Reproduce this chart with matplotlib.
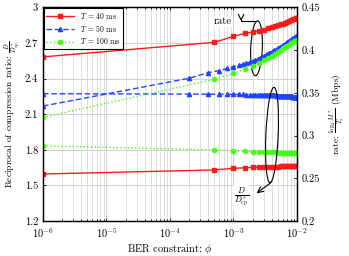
import numpy as np
import matplotlib
matplotlib.use("Agg")
import matplotlib.pyplot as plt
from matplotlib.patches import Ellipse

plt.rcParams['font.family'] = 'serif'
plt.rcParams['font.serif'] = ['cmr10', 'DejaVu Serif']
plt.rcParams['mathtext.fontset'] = 'cm'
plt.rcParams['axes.unicode_minus'] = False
plt.rcParams['axes.formatter.use_mathtext'] = True

# BER constraint values (T = 40 ms and T = 100 ms share the grid)
phi_coarse = [1e-6, 0.5e-3, 1.0e-3, 1.5e-3, 2.0e-3, 2.5e-3, 3.0e-3, 3.5e-3, 4.0e-3, 4.5e-3, 5.0e-3,
              5.5e-3, 6.0e-3, 6.5e-3, 7.0e-3, 7.5e-3, 8.0e-3, 8.5e-3, 9.0e-3, 9.5e-3, 10.0e-3]
phi_fine = [1e-6, 0.2e-3, 0.4e-3, 0.6e-3, 0.8e-3, 1.0e-3, 1.2e-3, 1.4e-3, 1.6e-3, 1.8e-3, 2.0e-3,
            2.2e-3, 2.4e-3, 2.6e-3, 2.8e-3, 3.0e-3, 3.2e-3, 3.4e-3, 3.6e-3, 3.8e-3, 4.0e-3,
            4.2e-3, 4.4e-3, 4.6e-3, 4.8e-3, 5.0e-3, 5.2e-3, 5.4e-3, 5.6e-3, 5.8e-3, 6.0e-3,
            6.2e-3, 6.4e-3, 6.6e-3, 6.8e-3, 7.0e-3, 7.2e-3, 7.4e-3, 7.6e-3, 7.8e-3, 8.0e-3,
            8.2e-3, 8.4e-3, 8.6e-3, 8.8e-3, 9.0e-3, 9.2e-3, 9.4e-3, 9.6e-3, 9.8e-3, 10.0e-3]

# T = 40 ms
rate_40 = [0.392, 0.409, 0.416, 0.4195, 0.421, 0.4225, 0.424, 0.4255, 0.427, 0.428, 0.429,
           0.430, 0.431, 0.432, 0.433, 0.434, 0.435, 0.4358, 0.4366, 0.4374, 0.438]
ratio_40 = [1.596, 1.630, 1.644, 1.648, 1.651, 1.653, 1.655, 1.656, 1.657, 1.658, 1.659,
            1.660, 1.661, 1.661, 1.662, 1.662, 1.663, 1.663, 1.664, 1.664, 1.665]

# T = 50 ms
rate_50 = [0.3345, 0.3670, 0.3735, 0.3760, 0.3786, 0.3805, 0.3820, 0.3834, 0.3847, 0.3859, 0.3870,
           0.3882, 0.3894, 0.3906, 0.3918, 0.3930, 0.3940, 0.3950, 0.3960, 0.3970, 0.3980,
           0.3988, 0.3996, 0.4004, 0.4012, 0.4020, 0.4027, 0.4034, 0.4041, 0.4048, 0.4055,
           0.4062, 0.4069, 0.4076, 0.4083, 0.4090, 0.4096, 0.4102, 0.4108, 0.4114, 0.4120,
           0.4125, 0.4130, 0.4135, 0.4140, 0.4145, 0.4149, 0.4153, 0.4157, 0.4161, 0.4165]
ratio_50 = [2.272, 2.269, 2.268, 2.268, 2.267, 2.267, 2.266, 2.266, 2.265, 2.265, 2.264,
            2.264, 2.263, 2.263, 2.262, 2.262, 2.261, 2.261, 2.260, 2.260, 2.259,
            2.259, 2.258, 2.258, 2.257, 2.257, 2.256, 2.256, 2.255, 2.255, 2.254,
            2.254, 2.253, 2.253, 2.252, 2.252, 2.251, 2.251, 2.250, 2.250, 2.249,
            2.249, 2.248, 2.248, 2.247, 2.247, 2.246, 2.246, 2.245, 2.245, 2.244]

# T = 100 ms
rate_100 = [0.3213, 0.3658, 0.3727, 0.3775, 0.3815, 0.3850, 0.3880, 0.3908, 0.3934, 0.3958, 0.3980,
            0.4000, 0.4018, 0.4035, 0.4050, 0.4064, 0.4077, 0.4089, 0.4100, 0.4110, 0.4120]
ratio_100 = [1.834, 1.798, 1.792, 1.788, 1.785, 1.783, 1.781, 1.779, 1.778, 1.777, 1.776,
             1.775, 1.774, 1.773, 1.772, 1.771, 1.771, 1.770, 1.770, 1.769, 1.769]

left_ticks = [1.2, 1.5, 1.8, 2.1, 2.4, 2.7, 3.0]
left_labels = ["1.2", "1.5", "1.8", "2.1", "2.4", "2.7", "3"]
right_ticks = [0.2, 0.25, 0.3, 0.35, 0.4, 0.45]
right_labels = ["0.2", "0.25", "0.3", "0.35", "0.4", "0.45"]

RED = "#ff1a1a"
BLUE = "#2244ff"
GREEN = "#44ff11"

fig, ax = plt.subplots(figsize=(3.49, 2.56), dpi=100)
fig.subplots_adjust(left=0.1232, right=0.851, bottom=0.1367, top=0.9715)
ax2 = ax.twinx()

style_40 = dict(color=RED, ls="-", marker="s", ms=3.0, lw=1.0)
style_50 = dict(color=BLUE, ls=(0, (4, 2)), marker="^", ms=3.0, lw=1.0)
style_100 = dict(color=GREEN, ls=":", marker="o", ms=3.0, lw=1.0)

h40, = ax.plot(phi_coarse, ratio_40, label=r"$T$ = 40 ms", **style_40)
h50, = ax.plot(phi_fine, ratio_50, label=r"$T$ = 50 ms", **style_50)
h100, = ax.plot(phi_coarse, ratio_100, label=r"$T$ = 100 ms", **style_100)
ax2.plot(phi_coarse, rate_40, **style_40)
ax2.plot(phi_fine, rate_50, **style_50)
ax2.plot(phi_coarse, rate_100, **style_100)

ax.set_xscale("log")
ax.set_xlim(1e-6, 1e-2)
ax.set_ylim(1.2, 3.0)
ax2.set_ylim(0.2, 0.45)
ax.set_yticks(left_ticks)
ax.set_yticklabels(left_labels)
ax2.set_yticks(right_ticks)
ax2.set_yticklabels(right_labels)

ax.grid(True, which="major", color="#d0d0d0", lw=0.7)
ax.grid(True, which="minor", axis="x", color="#d8d8d8", lw=0.6)
ax.set_axisbelow(True)

ax.tick_params(which="both", direction="in", top=True, labelsize=7.5, length=2.5, width=0.6)
ax.tick_params(which="minor", length=1.5)
ax2.tick_params(which="both", direction="in", labelsize=7.5, length=2.5, width=0.6)
for a in (ax, ax2):
    for s in a.spines.values():
        s.set_linewidth(0.9)

ax.set_xlabel(r"BER constraint: $\phi$", fontsize=7.5)
ax.xaxis.set_label_coords(0.5, -0.10)
ax.set_ylabel(r"Reciprocal of compression ratio: $\frac{D}{D^*_{\rm cp}}$", fontsize=6.8)
ax.yaxis.set_label_coords(-0.078, 0.5)
ax2.set_ylabel(r"rate: $\frac{\log_2 M^*}{T_s}$ (Mbps)", fontsize=6.8)
ax2.yaxis.set_label_coords(1.12, 0.5)

leg = ax2.legend(handles=[h40, h50, h100], loc="upper left", fontsize=5.5, frameon=True,
                 fancybox=False, edgecolor="black", framealpha=1, handlelength=3.6,
                 borderpad=0.35, labelspacing=0.3, borderaxespad=0.1)
leg.get_frame().set_linewidth(0.8)

# annotation ellipses
ax2.add_patch(Ellipse((0.8406, 0.808), 0.0457, 0.257, angle=-2, transform=ax2.transAxes,
                      fill=False, ec="black", lw=0.8))
ax2.add_patch(Ellipse((0.9016, 0.4024), 0.0484, 0.4464, angle=-2, transform=ax2.transAxes,
                      fill=False, ec="black", lw=0.8))
ax2.annotate("", xy=(0.78, 0.935), xytext=(0.84, 0.937), xycoords="axes fraction",
             arrowprops=dict(arrowstyle="->", lw=0.8, color="black", shrinkA=0, shrinkB=0,
                             connectionstyle="angle,angleA=0,angleB=90,rad=0"))
ax2.text(0.706, 0.935, "rate", transform=ax2.transAxes, fontsize=7.5, ha="center", va="center",
         bbox=dict(fc="white", ec="none", pad=0.5))
ax2.annotate("", xy=(0.841, 0.13), xytext=(0.898, 0.18), xycoords="axes fraction",
             arrowprops=dict(arrowstyle="->", lw=0.8, color="black", shrinkA=0, shrinkB=0))
ax2.text(0.78, 0.112, r"$\frac{D}{D^*_{\rm cp}}$", transform=ax2.transAxes, fontsize=8.5,
         ha="center", va="center", bbox=dict(fc="white", ec="none", pad=0.5))

fig.savefig("out.png", dpi=100)
